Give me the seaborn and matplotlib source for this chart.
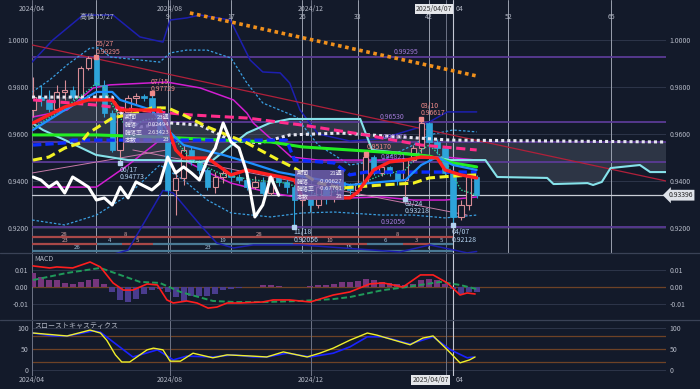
import numpy as np
import pandas as pd
import matplotlib
matplotlib.use("Agg")
import matplotlib.pyplot as plt
from matplotlib.lines import Line2D
from matplotlib.patches import Rectangle
import seaborn as sns

# ---------------- data ----------------
weeks = list(range(57))
opens = [0.9702, 0.9757, 0.9745, 0.9706, 0.9779, 0.9787, 0.9757, 0.9881, 0.9923, 0.9809,
         0.9689, 0.9532, 0.9694, 0.9753, 0.9762, 0.9753, 0.9702, 0.9596, 0.9362, 0.9413,
         0.9532, 0.9481, 0.9447, 0.9374, 0.9417, 0.9434, 0.9417, 0.9404, 0.9374, 0.9396,
         0.9349, 0.9417, 0.9396, 0.9374, 0.9319, 0.9328, 0.9298, 0.9374, 0.9328, 0.9396,
         0.9379, 0.9362, 0.9391, 0.9502, 0.9434, 0.9460, 0.9434, 0.9404, 0.9489, 0.9540,
         0.9647, 0.9566, 0.9540, 0.9434, 0.9247, 0.9298, 0.9417]
highs = [0.9843, 0.9809, 0.9787, 0.9809, 0.9830, 0.9804, 0.9889, 0.9932, 0.99295, 0.9830,
         0.9700, 0.9711, 0.9766, 0.9775, 0.9770, 0.97729, 0.9719, 0.9610, 0.9447, 0.9553,
         0.9545, 0.9490, 0.9455, 0.9438, 0.9455, 0.9450, 0.9430, 0.9410, 0.9420, 0.9415,
         0.9430, 0.9426, 0.9410, 0.9385, 0.9349, 0.9340, 0.9390, 0.9380, 0.9410, 0.9410,
         0.9390, 0.9405, 0.95170, 0.9511, 0.9470, 0.9465, 0.9440, 0.9495, 0.9555, 0.96617,
         0.9650, 0.9580, 0.9549, 0.9440, 0.9319, 0.9421, 0.9425]
lows = [0.9672, 0.9720, 0.9694, 0.9700, 0.9745, 0.9745, 0.9749, 0.9872, 0.9796, 0.9672,
        0.9523, 0.94773, 0.9680, 0.9723, 0.9740, 0.9685, 0.9583, 0.9340, 0.9255, 0.9383,
        0.9468, 0.9430, 0.9362, 0.9349, 0.9390, 0.9400, 0.9390, 0.9360, 0.9365, 0.9340,
        0.9340, 0.9380, 0.9350, 0.92056, 0.9294, 0.9268, 0.9285, 0.9300, 0.9310, 0.9360,
        0.9345, 0.9350, 0.9380, 0.9426, 0.9420, 0.9420, 0.9383, 0.93218, 0.9480, 0.9520,
        0.9540, 0.9515, 0.9421, 0.92128, 0.9235, 0.9277, 0.9328]
closes = [0.9757, 0.9745, 0.9706, 0.9779, 0.9787, 0.9757, 0.9881, 0.9923, 0.9809, 0.9689,
          0.9532, 0.9694, 0.9753, 0.9762, 0.9753, 0.9702, 0.9596, 0.9362, 0.9413, 0.9532,
          0.9481, 0.9447, 0.9374, 0.9417, 0.9434, 0.9417, 0.9404, 0.9374, 0.9396, 0.9349,
          0.9417, 0.9396, 0.9374, 0.9319, 0.9328, 0.9298, 0.9374, 0.9328, 0.9396, 0.9379,
          0.9362, 0.9391, 0.9502, 0.9434, 0.9460, 0.9434, 0.9404, 0.9489, 0.9540, 0.9647,
          0.9566, 0.9540, 0.9434, 0.9247, 0.9298, 0.9417, 0.93396]
chikou_shift = 25

red_w = [0, 4, 7, 10, 11, 16, 17, 18, 19, 22, 25, 27, 30, 32, 33, 34, 40, 41, 43, 45, 47, 49, 51, 52, 54, 56]
red_p = [0.9647, 0.9715, 0.9745, 0.9745, 0.9702, 0.9702, 0.9630, 0.9532, 0.9498, 0.9498, 0.9426, 0.9447, 0.9426,
         0.9413, 0.9404, 0.9328, 0.9328, 0.9353, 0.9447, 0.9481, 0.9489, 0.9502, 0.9498, 0.9447, 0.9426, 0.9413]
blu_w = [0, 4, 8, 10, 11, 15, 17, 19, 24, 27, 31, 35, 40, 44, 47, 49, 51, 53, 56]
blu_p = [0.9617, 0.9702, 0.9779, 0.9779, 0.9745, 0.9702, 0.9617, 0.9553, 0.9511, 0.9481, 0.9438, 0.9413, 0.9383,
         0.9396, 0.9404, 0.9468, 0.9502, 0.9468, 0.9447]
grn_w = [0, 8, 16, 24, 30, 34, 40, 46, 50, 53, 56]
grn_p = [0.9596, 0.9596, 0.9587, 0.9574, 0.9566, 0.9545, 0.9532, 0.9519, 0.9506, 0.9477, 0.9460]
yel_w = [0, 2, 4, 6, 7, 10, 13, 15, 17, 19, 22, 27, 31, 33, 36, 39, 44, 48, 50, 53, 56]
yel_p = [0.9489, 0.9502, 0.9540, 0.9562, 0.9604, 0.9668, 0.9689, 0.9711, 0.9711, 0.9681, 0.9630, 0.9562, 0.9489,
         0.9455, 0.9391, 0.9370, 0.9383, 0.9391, 0.9413, 0.9421, 0.9426]
pnk_w = [0, 8, 13, 20, 27, 34, 42, 49, 56]
pnk_p = [0.9745, 0.9723, 0.9702, 0.9681, 0.9668, 0.9638, 0.9596, 0.9553, 0.9532]
kij_w = [0, 4, 5, 32, 33, 38, 40, 42, 56]
kij_p = [0.9553, 0.9562, 0.9574, 0.9574, 0.9489, 0.9477, 0.9426, 0.9438, 0.9438]
tdt_w = [0, 4, 7, 8, 9, 10, 12, 14, 16, 18, 20, 24, 28, 32, 36, 40, 44, 47, 49, 50, 52, 54, 56]
tdt_p = [0.9626, 0.9711, 0.9787, 0.9817, 0.9796, 0.9723, 0.9617, 0.9660, 0.9668, 0.9574, 0.9489, 0.9426, 0.9404,
         0.9391, 0.9340, 0.9370, 0.9426, 0.9447, 0.9532, 0.9553, 0.9489, 0.9362, 0.9340]

bb3u_w = [-0.13, 2.5, 6.3, 10.1, 13.5, 16.4, 17.3, 19.4, 21.1, 24.9, 27.4, 29, 31.2, 32.4, 33.7, 36, 40, 44, 48.9, 52.3, 56]
bb3u_p = [0.9906, 1.0, 1.0106, 1.0106, 1.0013, 0.9991, 1.0085, 1.0094, 1.0106, 1.0085, 0.9915, 0.9864, 0.9860,
          0.9817, 0.9702, 0.9600, 0.9570, 0.9580, 0.9630, 0.9694, 0.9694]
bb3l_w = [-0.13, 12.0, 16.4, 17.7, 21.1, 23.2, 25.3, 27.8, 33.7, 46.3, 50.1, 54.8, 56]
bb3l_p = [0.8990, 0.9106, 0.9360, 0.9349, 0.9213, 0.9136, 0.9115, 0.9128, 0.9128, 0.9098, 0.9128, 0.9094, 0.9100]
bb2u_w = [-0.1, 2.1, 4.3, 7.2, 8.5, 9.7, 16, 17.3, 19.4, 22, 25, 27, 29, 33.3, 34, 36, 40, 44, 48, 50, 53, 56]
bb2u_p = [0.9779, 0.9830, 0.9894, 0.9966, 0.9966, 0.9928, 0.9906, 0.9945, 0.9957, 0.9957, 0.9923, 0.9817, 0.9732,
          0.9672, 0.9638, 0.9553, 0.9468, 0.9489, 0.9553, 0.9596, 0.9617, 0.9609]
bb2l_w = [-0.1, 4, 8, 12, 16, 17, 19, 22, 25, 30, 34, 38, 44, 48, 52, 56]
bb2l_p = [0.9234, 0.9213, 0.9255, 0.9340, 0.9468, 0.9447, 0.9404, 0.9319, 0.9264, 0.9247, 0.9264, 0.9268, 0.9255,
          0.9255, 0.9243, 0.9255]
bb1u_w = [-0.1, 4.3, 7.6, 9.7, 16.9, 21.1, 25.3, 27, 27.8, 32.6, 36, 44, 52, 56]
bb1u_p = [0.9672, 0.9702, 0.9796, 0.9809, 0.9821, 0.9796, 0.9745, 0.9689, 0.9647, 0.9502, 0.9489, 0.9489, 0.9502, 0.9489]
bb1l_w = [-0.1, 8, 12, 16, 17, 19, 22, 25, 30, 34, 40, 44, 48, 52, 56]
bb1l_p = [0.9374, 0.9374, 0.9468, 0.9574, 0.9587, 0.9489, 0.9438, 0.9391, 0.9349, 0.9328, 0.9328, 0.9332, 0.9319,
          0.9319, 0.9332]

spa_w = [-0.13, 1.26, 4.04, 7.95, 12.0, 16.0, 21.1, 22.7, 27.0, 29.9, 32.4, 41.3, 42.8, 48.9, 52.7, 57.1, 58.6,
         64.9, 65.7, 70.0, 70.7, 71.8, 72.9, 76.6, 77.9, 79.9]
spa_p = [0.9647, 0.9617, 0.9574, 0.9511, 0.9489, 0.9489, 0.9481, 0.9489, 0.9604, 0.9647, 0.9664, 0.9664, 0.9532,
         0.9511, 0.9489, 0.9489, 0.9417, 0.9413, 0.9387, 0.9391, 0.9383, 0.9396, 0.9455, 0.9468, 0.9438, 0.9438]
spb_w = [-0.13, 10.0, 10.7, 11.6, 13.5, 17.3, 21.1, 24.9, 28.7, 32.4, 38.8, 52.7, 79.9]
spb_p = [0.9757, 0.9757, 0.9702, 0.9672, 0.9630, 0.9647, 0.9638, 0.9574, 0.9562, 0.9596, 0.9604, 0.9574, 0.9566]

trend_red_w = [-0.13, 79.9]
trend_red_p = [0.9979, 0.9400]
trend_org_w = [19.8, 56.0]
trend_org_p = [1.0115, 0.9847]
thin1_w = [-0.13, 16.9]
thin1_p = [0.9434, 0.9532]
thin2_w = [12.6, 54.8]
thin2_p = [0.9532, 0.9255]

fib_levels = [0.99295, 0.96530, 0.95675, 0.94821, 0.92056]
fib_labels = ["0.99295", "0.96530", "0.95675", "0.94821", "0.92056"]
last_price = 0.93396

peak_week = 8
cycle_counts = [9, 17, 26, 33, 42, 52, 65]
month_weeks = [-0.13, 17.3, 35.1, 52.1]
month_labels = ["2024/04", "2024/08", "2024/12"]
cross_week = 53

macd_w = [0, 2.1, 3, 5, 7.2, 8.5, 10.1, 11.4, 12.6, 14.4, 15.7, 16.9, 17.7, 19.4, 20.7, 22.1, 23.2, 24.5, 26.1, 29,
          30.3, 32.4, 35, 36.2, 37.9, 40, 42.5, 44.2, 46.7, 48.9, 50.5, 52.3, 53.9, 54.8, 55.8]
macd_v = [.0124, .0112, .0118, .0112, .0147, .0118, .0024, -.0018, -.0018, .0018, .0012, -.0076, -.0094, -.0082,
          -.0094, -.0124, -.0118, -.0094, -.0094, -.0088, -.0076, -.0076, -.0088, -.0071, -.0047, -.0029, .0018,
          .0024, 0.0, .0071, .0071, .0024, -.0047, -.0035, -.0041]
sig_w = [0, 4.2, 8.5, 11, 13.5, 16, 18.6, 22.7, 25.3, 29.5, 33.7, 37.9, 40, 44.2, 47.2, 51.4, 53.9, 56]
sig_v = [.0041, .0082, .0112, .0071, .003, .0024, -.0029, -.0082, -.0088, -.0088, -.0082, -.0071, -.0059, -.0018,
         0.0, .003, .0012, -.0012]
hist_v = [.008, .006, .004, .004, .0025, .002, .003, .004, .0045, .0015,
          -.003, -.0075, -.009, -.007, -.004, -.002, -.001, -.003, -.006, -.0085,
          -.005, -.005, -.005, -.004, -.002, -.001, -.0005, 0, .0003, .001,
          .001, .0008, .0003, 0, -.0002, .0005, .001, .0012, .002, .003,
          .003, .0035, .005, .004, .003, .0025, .002, .001, .002, .004,
          .005, .004, .002, -.001, -.004, -.003, -.003]

stk_w = [0, 4.3, 7.2, 8.5, 9.3, 10.4, 11.2, 12.2, 14.4, 15.2, 16.4, 17.3, 18.6, 20.2, 22.7, 24.5, 27.8, 29.5, 31.6,
         34.6, 36.2, 37.9, 40, 42.2, 43.4, 47.6, 49.2, 50.5, 52.3, 53.9, 55.1, 55.8]
stk_v = [88, 81, 95, 88, 71, 36, 19, 19, 48, 52, 48, 21, 21, 40, 29, 36, 33, 31, 43, 31, 40, 52, 71, 88, 83, 60, 76,
         81, 48, 17, 24, 31]
std_w = [0, 2.5, 4.3, 7.6, 8.5, 12.6, 15.7, 17.7, 19.4, 22.7, 25.3, 27.8, 29.5, 32.1, 35, 37.9, 40, 42.2, 44.2, 47.6,
         50.5, 52.7, 54.8, 55.6]
std_v = [88, 81, 81, 93, 90, 31, 48, 24, 33, 31, 36, 31, 31, 40, 31, 40, 55, 79, 79, 62, 79, 48, 29, 31]

row1_edges = [-0.13, 8.1, 15.2, 42.0, 50.0, 53.0]
row1_labels = ["28", "8", "28", "8", ""]
row2_edges = [-0.13, 8.1, 11.2, 15.2, 32.8, 42.2, 46.7, 50.1, 53.0]
row2_labels = ["23", "4", "5", "19", "10", "6", "3", "5"]
row3_edges = [-0.13, 11.2, 33.0, 46.7, 53.0]
row3_labels = ["26", "23", "15", "7"]

# ---------------- style ----------------
sns.set_theme(style="dark")
plt.rcParams['font.family'] = ['Noto Sans CJK JP', 'DejaVu Sans']
plt.rcParams['axes.unicode_minus'] = False

BG = '#131a2a'
TXT = '#b4b9c6'
GRID = '#313a4e'
UPC = '#d88c96'
DNC = '#2ea4da'
FS = 5.0
FSS = 4.3

fig = plt.figure(figsize=(7, 3.89), dpi=100, facecolor=BG)
L, W = 32 / 700, 634 / 700
ax = fig.add_axes([L, 136 / 389, W, 253 / 389])
axm = fig.add_axes([L, 69 / 389, W, 67 / 389])
axs = fig.add_axes([L, 13 / 389, W, 56 / 389])
XL = (-0.13, 79.9)
for a in (ax, axm, axs):
    a.set_facecolor(BG)
    for s in a.spines.values():
        s.set_visible(False)
    a.tick_params(axis='both', length=0, colors=TXT, labelsize=FS, labelleft=True, labelright=True,
                  left=False, right=False, bottom=False, labelbottom=False, pad=2.5)
    a.grid(False)


def sline(a, xs, ys, **kw):
    sns.lineplot(x=xs, y=ys, ax=a, sort=False, estimator=None, legend=False, **kw)


# ---------------- main panel ----------------
for yv in [0.92, 0.94, 0.96, 0.98, 1.0]:
    ax.axhline(yv, color=GRID, lw=0.6, zorder=0)
for mw in month_weeks:
    for a in (ax, axm, axs):
        a.axvline(mw, color='#6d7385', lw=0.7, zorder=1)
ax.axvline(peak_week, color='#9aa0ae', lw=0.7, zorder=1)
for cc in cycle_counts:
    ax.axvline(peak_week + cc, color='#9aa0ae', lw=0.7, zorder=1)
for a in (ax, axm, axs):
    a.axvline(cross_week, color='#c4c8d4', lw=0.8, zorder=1)

# cloud
ax.fill(np.concatenate([spa_w, spb_w[::-1]]), np.concatenate([spa_p, spb_p[::-1]]),
        color='#9aa2b4', alpha=0.2, lw=0, zorder=1)

for lv in fib_levels:
    ax.axhline(lv, color='#5b3b95', lw=1.3, zorder=2)
ax.axhline(last_price, color='#c9cdd6', lw=0.9, zorder=2)

# count rows
RED, TEAL = '#a84848', '#4a7a95'
def count_row(edges, labels, yv, colors, tcolors):
    for i, lab in enumerate(labels):
        c = colors[i % len(colors)]
        ax.plot([edges[i], edges[i + 1]], [yv, yv], color=c, lw=1.6, solid_capstyle='butt', zorder=2)
        if lab:
            ax.text((edges[i] + edges[i + 1]) / 2, yv + 0.0003, lab, color=tcolors[i % len(tcolors)],
                    fontsize=FSS, ha='center', va='bottom', zorder=3)
count_row(row1_edges, row1_labels, 0.91596, [RED], ['#d8a4a4'])
count_row(row2_edges, row2_labels, 0.91340, [RED, TEAL], ['#d8a4a4', '#a8c4dc'])
count_row(row3_edges, row3_labels, 0.91021, [TEAL], ['#a8c4dc'])

# bands
sline(ax, bb3u_w, bb3u_p, color='#1d1fb0', linewidth=1.1, zorder=3)
sline(ax, bb3l_w, bb3l_p, color='#1d1fb0', linewidth=1.1, zorder=3)
sline(ax, bb2u_w, bb2u_p, color='#3a9ee0', linewidth=0.9, linestyle=(0, (2, 1.5)), zorder=3)
sline(ax, bb2l_w, bb2l_p, color='#3a9ee0', linewidth=0.9, linestyle=(0, (2, 1.5)), zorder=3)
sline(ax, bb1u_w, bb1u_p, color='#d21ed2', linewidth=1.1, zorder=3)
sline(ax, bb1l_w, bb1l_p, color='#d21ed2', linewidth=1.1, zorder=3)
sline(ax, thin1_w, thin1_p, color='#c77aa8', linewidth=0.7, zorder=3)
sline(ax, thin2_w, thin2_p, color='#c77aa8', linewidth=0.7, zorder=3)
sline(ax, trend_red_w, trend_red_p, color='#b0203a', linewidth=0.9, zorder=3)
sline(ax, trend_org_w, trend_org_p, color='#f0901c', linewidth=2.6, linestyle=(0, (1, 1)), zorder=6)

# candles
df = pd.DataFrame({'w': weeks, 'o': opens, 'h': highs, 'l': lows, 'c': closes})
up = (df['c'] >= df['o']).values
ax.vlines(df['w'], df['l'], df['h'], colors=np.where(up, UPC, DNC), lw=0.8, zorder=4)
ax.bar(df['w'][up], (df['c'] - df['o'])[up], bottom=df['o'][up], width=0.68, color=BG,
       edgecolor=UPC, linewidth=0.8, zorder=4)
ax.bar(df['w'][~up], (df['o'] - df['c'])[~up], bottom=df['c'][~up], width=0.68, color=DNC,
       edgecolor=DNC, linewidth=0.5, zorder=4)

# ichimoku / moving averages
sline(ax, spa_w, spa_p, color='#86e2ea', linewidth=1.5, zorder=5)
sline(ax, spb_w, spb_p, color='#e6e6f0', linewidth=2.2, linestyle=(0, (1, 1)), zorder=5)
sline(ax, tdt_w, tdt_p, color='#2fd39a', linewidth=1.0, linestyle=(0, (1, 1.2)), zorder=5)
sline(ax, pnk_w, pnk_p, color='#ff2d8c', linewidth=2.2, linestyle=(0, (3, 1.5)), zorder=5)
sline(ax, grn_w, grn_p, color='#22ee22', linewidth=2.2, zorder=5)
sline(ax, kij_w, kij_p, color='#0b2cff', linewidth=2.4, linestyle=(0, (2.5, 1.2)), zorder=5)
sline(ax, blu_w, blu_p, color='#1e90ff', linewidth=1.6, zorder=5)
sline(ax, yel_w, yel_p, color='#f2f224', linewidth=2.2, linestyle=(0, (3, 1.5)), zorder=5)
sline(ax, red_w, red_p, color='#ff2020', linewidth=2.4, zorder=5)
chik_w = [w - chikou_shift for w in weeks if w - chikou_shift >= -0.2]
chik_p = [c for w, c in zip(weeks, closes) if w - chikou_shift >= -0.2]
sline(ax, chik_w, chik_p, color='#ffffff', linewidth=2.2, zorder=6)

# high / low markers
HC, LC = '#f08a8a', '#b4d2f0'
marks = [(8, 0.99295, "05/27", HC, 0.9983, 0.9949),
         (15, 0.97729, "07/15", HC, 0.9821, 0.9791),
         (11, 0.94773, "06/17", LC, 0.9447, 0.9417),
         (33, 0.92056, "11/18", LC, 0.9183, 0.9149),
         (47, 0.93218, "02/24", LC, 0.9302, 0.9272),
         (49, 0.96617, "03/10", HC, 0.9719, 0.9689),
         (53, 0.92128, "04/07", LC, 0.9183, 0.9149)]
for w, p, d, c, y1, y2 in marks:
    ax.plot([w], [p], marker='s', ms=2.6, color=c, zorder=8, lw=0)
    ax.text(w - 0.1, y1, d, color=c, fontsize=FS, ha='left', va='center', zorder=8)
    ax.text(w - 0.1, y2, f"{p:.5f}", color=c, fontsize=FS, ha='left', va='center', zorder=8)
ax.plot([42], [0.95170], marker='s', ms=2.6, color=HC, zorder=8, lw=0)
ax.text(42.1, 0.9545, "0.95170", color=HC, fontsize=FS, ha='left', va='center', zorder=8)

fib_label_w = [45.5, 43.8, 44.1, 43.9, 43.9]
for lv, lab, lw_ in zip(fib_levels, fib_labels, fib_label_w):
    ax.text(lw_, lv + 0.0019, lab, color='#a27ad8', fontsize=FS, ha='left', va='center', zorder=7)

# info boxes
def info_box(x0, x1, ytop, ybot, rows):
    ax.add_patch(Rectangle((x0, ybot), x1 - x0, ytop - ybot, facecolor='#7262b4', alpha=0.82,
                           edgecolor='none', zorder=9))
    n = len(rows)
    for i, (k, v) in enumerate(rows):
        yy = ytop - (i + 0.5) * (ytop - ybot) / n
        ax.text(x0 + 0.15, yy, k, color='#ecebf6', fontsize=FSS, ha='left', va='center', zorder=10)
        ax.text(x1 - 0.1, yy, v, color='#ecebf6', fontsize=FSS, ha='right', va='center', zorder=10)

info_box(11.4, 17.3, 0.9689, 0.9560, [("期間", "23週"), ("騰落", "0.02494"), ("騰落率", "2.63423"), ("本数", "23")])
info_box(33.1, 39.2, 0.9447, 0.9319, [("期間", "21週"), ("騰落", "-0.00627"), ("騰落率", "-0.67761"), ("本数", "21")])

# top labels
tx = ax.get_xaxis_transform()
for mw, ml in zip(month_weeks[:3], month_labels):
    ax.text(mw, 0.964, ml, transform=tx, color=TXT, fontsize=FS, ha='center', va='center', zorder=10)
ax.text(peak_week, 0.933, "高値 05/27", transform=tx, color=TXT, fontsize=FS, ha='center', va='center', zorder=10)
for cc in cycle_counts:
    ax.text(peak_week + cc, 0.933, str(cc), transform=tx, color=TXT, fontsize=FS, ha='center', va='center',
            zorder=10)
ax.text(50.6, 0.964, "2025/04/07", transform=tx, color='#333333', fontsize=FS, ha='center', va='center',
        zorder=11, bbox=dict(boxstyle='square,pad=0.15', fc='#e4e6ea', ec='none'))
ax.text(53.3, 0.964, "04", transform=tx, color=TXT, fontsize=FS, ha='left', va='center', zorder=10)

ax.set_yticks([0.92, 0.94, 0.96, 0.98, 1.0])
ax.set_yticklabels([f"{v:.4f}" for v in [0.92, 0.94, 0.96, 0.98, 1.0]])
ax.text(1.004, last_price, f"{last_price:.5f}", transform=ax.get_yaxis_transform(), color='#222222',
        fontsize=FS, ha='left', va='center', zorder=12,
        bbox=dict(boxstyle='larrow,pad=0.2', fc='#dfe3ea', ec='none'))
ax.set_xlim(*XL)
ax.set_ylim(0.90936, 1.01702)

# ---------------- MACD ----------------
for yv in [0.01, -0.01]:
    axm.axhline(yv, color=GRID, lw=0.6, zorder=0)
axm.axhline(0, color='#6e4226', lw=0.9, zorder=0)
hist_arr = np.array(hist_v)
axm.bar(weeks, hist_arr, width=0.75, color=np.where(hist_arr >= 0, '#76367c', '#4a3c8e'),
        edgecolor='none', linewidth=0, zorder=2)
sline(axm, sig_w, sig_v, color='#1f9a5a', linewidth=1.4, linestyle=(0, (3, 1.5)), zorder=3)
sline(axm, macd_w, macd_v, color='#ff1e1e', linewidth=1.2, zorder=4)
axm.set_yticks([0.01, 0.0, -0.01])
axm.set_yticklabels(["0.01", "0.00", "-0.01"])
axm.text(0.003, 0.91, "MACD", transform=axm.transAxes, color=TXT, fontsize=FS, ha='left', va='center')
axm.set_xlim(*XL)
axm.set_ylim(-0.0194, 0.02)

# ---------------- Stochastics ----------------
for yv in [100, 0]:
    axs.axhline(yv, color=GRID, lw=0.6, zorder=0)
for yv in [80, 50, 20]:
    axs.axhline(yv, color='#6e4226', lw=0.9, zorder=0)
sline(axs, std_w, std_v, color='#1a22ff', linewidth=1.2, zorder=3)
sline(axs, stk_w, stk_v, color='#f0f02a', linewidth=1.0, zorder=4)
axs.set_yticks([100, 50, 0])
axs.set_yticklabels(["100", "50", "0"])
axs.text(0.003, 0.89, "スローストキャスティクス", transform=axs.transAxes, color=TXT, fontsize=FS,
         ha='left', va='center')
axs.set_xlim(*XL)
axs.set_ylim(-14.3, 119)

bx = axs.get_xaxis_transform()
for mw, ml in zip(month_weeks[:3], month_labels):
    axs.text(mw, -0.07, ml, transform=bx, color=TXT, fontsize=FS, ha='center', va='center', clip_on=False)
axs.text(50.2, -0.07, "2025/04/07", transform=bx, color='#333333', fontsize=FS, ha='center', va='center',
         clip_on=False, bbox=dict(boxstyle='square,pad=0.15', fc='#e4e6ea', ec='none'))
axs.text(53.3, -0.07, "04", transform=bx, color=TXT, fontsize=FS, ha='left', va='center', clip_on=False)

for a in (ax, axm, axs):
    a.set_xlabel('')
    a.set_ylabel('')

# separators
for yy in [136 / 389, 69 / 389]:
    fig.add_artist(Line2D([0, 1], [yy, yy], transform=fig.transFigure, color='#3a4256', lw=0.9))

fig.savefig("out.png", dpi=100, facecolor=BG)
